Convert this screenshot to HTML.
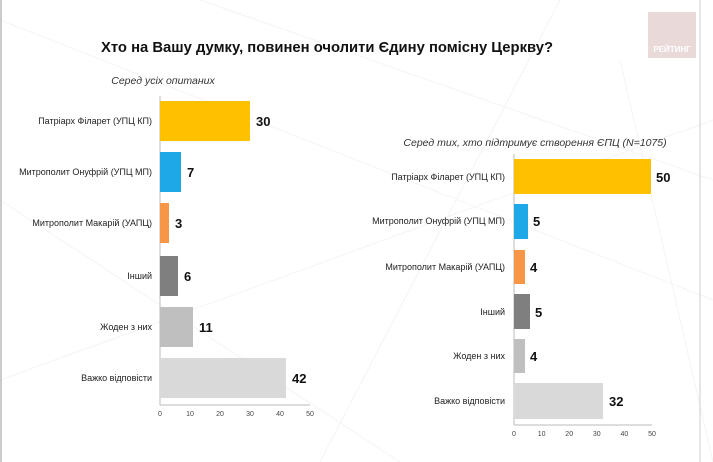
<!DOCTYPE html>
<html><head><meta charset="utf-8"><style>
body{margin:0;background:#fff;}
svg{display:block;font-family:"Liberation Sans",sans-serif;}
.lab{font-size:9px;fill:#222;text-anchor:end;}
.val{font-size:13px;font-weight:bold;fill:#111;font-family:"Liberation Sans Narrow","Liberation Sans",sans-serif;}
.tk{font-size:7px;fill:#444;text-anchor:middle;}
</style></head><body>
<svg width="713" height="462" viewBox="0 0 713 462">
<rect width="713" height="462" fill="#fff"/>
<g stroke="#f4f4f4" stroke-width="1" fill="none">
<line x1="0" y1="20" x2="713" y2="300"/><line x1="200" y1="0" x2="713" y2="180"/>
<line x1="0" y1="380" x2="713" y2="120"/><line x1="560" y1="0" x2="320" y2="462"/>
<line x1="620" y1="60" x2="713" y2="462"/><line x1="0" y1="200" x2="400" y2="462"/>
</g>
<line x1="1" y1="0" x2="1" y2="462" stroke="#999"/>
<line x1="700" y1="0" x2="700" y2="462" stroke="#ccc"/>
<rect x="648" y="12" width="48" height="46" fill="#ead9d9"/>
<text x="672" y="52" font-size="8" font-weight="bold" fill="#fff" text-anchor="middle">РЕЙТИНГ</text>
<text x="327" y="52" font-size="15" font-weight="bold" fill="#111" text-anchor="middle" textLength="452" lengthAdjust="spacingAndGlyphs">Хто на Вашу думку, повинен очолити Єдину помісну Церкву?</text>
<text x="163" y="84" font-size="10.5" font-style="italic" fill="#333" text-anchor="middle">Серед усіх опитаних</text>
<text x="535" y="146" font-size="10.5" font-style="italic" fill="#333" text-anchor="middle">Серед тих, хто підтримує створення ЄПЦ (N=1075)</text>
<g>
<line x1="160" y1="96" x2="160" y2="405" stroke="#bbb"/>
<line x1="160" y1="405" x2="310" y2="405" stroke="#bbb"/>
<rect x="160" y="101" width="90" height="40" fill="#ffc000"/>
<rect x="160" y="152" width="21" height="40" fill="#1fa8e8"/>
<rect x="160" y="203" width="9" height="40" fill="#f79646"/>
<rect x="160" y="256" width="18" height="40" fill="#7f7f7f"/>
<rect x="160" y="307" width="33" height="40" fill="#bfbfbf"/>
<rect x="160" y="358" width="126" height="40" fill="#d9d9d9"/>
<text class="lab" x="152" y="124">Патріарх Філарет (УПЦ КП)</text>
<text class="lab" x="152" y="175">Митрополит Онуфрій (УПЦ МП)</text>
<text class="lab" x="152" y="226">Митрополит Макарій (УАПЦ)</text>
<text class="lab" x="152" y="279">Інший</text>
<text class="lab" x="152" y="330">Жоден з них</text>
<text class="lab" x="152" y="381">Важко відповісти</text>
<text class="val" x="256" y="126">30</text>
<text class="val" x="187" y="177">7</text>
<text class="val" x="175" y="228">3</text>
<text class="val" x="184" y="281">6</text>
<text class="val" x="199" y="332">11</text>
<text class="val" x="292" y="383">42</text>
<text class="tk" x="160" y="416">0</text><text class="tk" x="190" y="416">10</text><text class="tk" x="220" y="416">20</text><text class="tk" x="250" y="416">30</text><text class="tk" x="280" y="416">40</text><text class="tk" x="310" y="416">50</text>
</g>
<g>
<line x1="514" y1="154" x2="514" y2="425" stroke="#bbb"/>
<line x1="514" y1="425" x2="652" y2="425" stroke="#bbb"/>
<rect x="514" y="159" width="137" height="35" fill="#ffc000"/>
<rect x="514" y="204" width="14" height="35" fill="#1fa8e8"/>
<rect x="514" y="250" width="11" height="34" fill="#f79646"/>
<rect x="514" y="294" width="16" height="35" fill="#7f7f7f"/>
<rect x="514" y="339" width="11" height="34" fill="#bfbfbf"/>
<rect x="514" y="383" width="89" height="36" fill="#d9d9d9"/>
<text class="lab" x="505" y="180">Патріарх Філарет (УПЦ КП)</text>
<text class="lab" x="505" y="224">Митрополит Онуфрій (УПЦ МП)</text>
<text class="lab" x="505" y="270">Митрополит Макарій (УАПЦ)</text>
<text class="lab" x="505" y="315">Інший</text>
<text class="lab" x="505" y="359">Жоден з них</text>
<text class="lab" x="505" y="404">Важко відповісти</text>
<text class="val" x="656" y="182">50</text>
<text class="val" x="533" y="226">5</text>
<text class="val" x="530" y="272">4</text>
<text class="val" x="535" y="317">5</text>
<text class="val" x="530" y="361">4</text>
<text class="val" x="609" y="406">32</text>
<text class="tk" x="514" y="436">0</text><text class="tk" x="541.6" y="436">10</text><text class="tk" x="569.2" y="436">20</text><text class="tk" x="596.8" y="436">30</text><text class="tk" x="624.4" y="436">40</text><text class="tk" x="652" y="436">50</text>
</g>
</svg>
</body></html>
